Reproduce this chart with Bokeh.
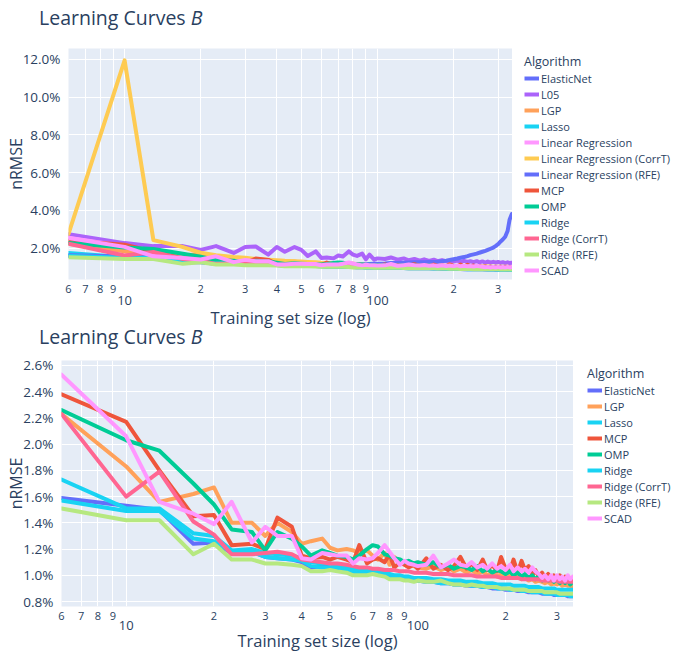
from bokeh.plotting import figure
from bokeh.models import (FixedTicker, PrintfTickFormatter, CustomJSTickFormatter, LogAxis,
                          Legend, LegendItem, Range1d, Div)
from bokeh.layouts import row
from bokeh.embed import file_html
from bokeh.resources import INLINE

# ---------------- data ----------------
x_sizes = [6, 10, 13, 17, 20, 23, 27, 30, 33, 37, 40, 43, 47, 50, 53, 57, 60, 63, 67, 70,
           73, 77, 80, 83, 87, 90, 93, 97, 100,
           107, 113, 120, 127, 133, 140, 147, 153, 160, 167, 173, 180, 187, 193, 200, 207,
           213, 220, 227, 233, 240, 247, 253, 260, 267, 273, 280, 287, 293, 300, 307, 313,
           320, 327, 333, 340]

elasticnet = [1.59, 1.53, 1.50, 1.24, 1.25, 1.17, 1.18, 1.14, 1.13, 1.12, 1.10, 1.06, 1.07, 1.06, 1.05,
              1.04, 1.03, 1.02, 1.02, 1.01, 1.01, 1.00, 0.99, 0.98, 0.98, 0.97, 0.97, 0.97, 0.96,
              0.95, 0.95, 0.94, 0.94, 0.93, 0.93, 0.92, 0.92, 0.92, 0.91, 0.91, 0.90, 0.90, 0.90, 0.89,
              0.89, 0.89, 0.88, 0.88, 0.88, 0.87, 0.87, 0.87, 0.87, 0.86, 0.86, 0.86, 0.86, 0.85, 0.85,
              0.85, 0.85, 0.85, 0.84, 0.84, 0.84]
l05 = [2.73, 2.26, 2.10, 2.10, 1.90, 2.10, 1.74, 2.05, 2.08, 1.65, 2.05, 1.80, 2.05, 1.90, 1.58,
       1.82, 1.47, 1.50, 1.45, 1.60, 1.55, 1.82, 1.65, 1.58, 1.70, 1.40, 1.65, 1.38, 1.45,
       1.42, 1.50, 1.38, 1.45, 1.35, 1.42, 1.33, 1.40, 1.32, 1.38, 1.30, 1.36, 1.30, 1.34, 1.28,
       1.33, 1.27, 1.32, 1.26, 1.30, 1.25, 1.30, 1.24, 1.29, 1.23, 1.28, 1.22, 1.27, 1.22, 1.26,
       1.21, 1.25, 1.20, 1.24, 1.20, 1.22]
lgp = [2.23, 1.83, 1.56, 1.62, 1.67, 1.40, 1.40, 1.30, 1.40, 1.33, 1.24, 1.26, 1.28, 1.21, 1.19,
       1.20, 1.19, 1.17, 1.19, 1.15, 1.12, 1.17, 1.08, 1.14, 1.10, 1.09, 1.08, 1.07, 1.06,
       1.05, 1.07, 1.04, 1.06, 1.03, 1.05, 1.02, 1.04, 1.01, 1.03, 1.00, 1.02, 0.99, 1.01, 0.99,
       1.00, 0.98, 0.99, 0.97, 0.98, 0.96, 0.97, 0.95, 0.96, 0.95, 0.94, 0.95, 0.93, 0.94, 0.93,
       0.94, 0.92, 0.93, 0.92, 0.92, 0.91]
lasso = [1.73, 1.51, 1.51, 1.32, 1.30, 1.19, 1.20, 1.17, 1.16, 1.15, 1.13, 1.10, 1.09, 1.09, 1.07,
         1.06, 1.05, 1.04, 1.04, 1.03, 1.03, 1.02, 1.01, 1.00, 1.00, 0.99, 0.99, 0.98, 0.98,
         0.98, 0.97, 0.97, 0.96, 0.96, 0.96, 0.95, 0.95, 0.95, 0.94, 0.94, 0.94, 0.93, 0.93, 0.93,
         0.93, 0.92, 0.92, 0.92, 0.92, 0.91, 0.91, 0.91, 0.91, 0.90, 0.90, 0.90, 0.90, 0.90, 0.89,
         0.89, 0.89, 0.89, 0.89, 0.89, 0.89]
linreg = [2.55, 2.10, 1.60, 1.50, 1.42, 1.50, 1.28, 1.35, 1.32, 1.28, 1.15, 1.14, 1.18, 1.15, 1.14,
          1.13, 1.10, 1.12, 1.11, 1.12, 1.15, 1.20, 1.16, 1.12, 1.09, 1.10, 1.08, 1.07, 1.07,
          1.06, 1.10, 1.05, 1.07, 1.09, 1.05, 1.06, 1.08, 1.04, 1.06, 1.03, 1.07, 1.03, 1.05, 1.02,
          1.05, 1.02, 1.04, 1.01, 1.03, 1.00, 1.03, 1.00, 1.01, 0.98, 1.00, 0.97, 0.99, 0.97, 0.99,
          0.96, 0.98, 0.96, 0.98, 0.96, 0.97]
linreg_corrt = [2.75, 11.95, 2.42, 2.05, 1.75, 1.62, 1.52, 1.48, 1.42, 1.38, 1.35, 1.32, 1.30, 1.28, 1.26,
                1.24, 1.22, 1.21, 1.20, 1.19, 1.18, 1.17, 1.16, 1.15, 1.14, 1.13, 1.13, 1.12, 1.12,
                1.11, 1.10, 1.10, 1.09, 1.09, 1.08, 1.08, 1.07, 1.07, 1.06, 1.06, 1.06, 1.05, 1.05, 1.05,
                1.04, 1.04, 1.04, 1.03, 1.03, 1.03, 1.03, 1.02, 1.02, 1.02, 1.02, 1.01, 1.01, 1.01, 1.01,
                1.00, 1.00, 1.00, 1.00, 0.99, 0.99]
linreg_rfe = [1.62, 1.55, 1.52, 1.30, 1.28, 1.20, 1.20, 1.16, 1.15, 1.14, 1.12, 1.10, 1.10, 1.09, 1.09,
              1.08, 1.08, 1.08, 1.09, 1.09, 1.10, 1.10, 1.11, 1.12, 1.13, 1.14, 1.15, 1.16, 1.17,
              1.18, 1.20, 1.21, 1.22, 1.23, 1.24, 1.24, 1.25, 1.26, 1.26, 1.27, 1.30, 1.33, 1.36, 1.40,
              1.44, 1.48, 1.52, 1.57, 1.62, 1.66, 1.70, 1.75, 1.80, 1.85, 1.90, 1.96, 2.02, 2.10, 2.20,
              2.35, 2.45, 2.60, 2.90, 3.50, 3.80]
mcp = [2.38, 2.17, 1.80, 1.45, 1.46, 1.23, 1.24, 1.20, 1.44, 1.37, 1.15, 1.13, 1.14, 1.12, 1.14,
       1.12, 1.10, 1.23, 1.09, 1.12, 1.13, 1.10, 1.16, 1.06, 1.10, 1.08, 1.06, 1.08, 1.05,
       1.13, 1.05, 1.08, 1.04, 1.07, 1.14, 1.05, 1.09, 1.04, 1.12, 1.04, 1.08, 1.03, 1.14, 1.05,
       1.03, 1.12, 1.02, 1.11, 1.04, 1.07, 1.00, 1.04, 0.99, 1.02, 0.98, 1.01, 0.97, 1.00, 0.97,
       1.00, 0.96, 0.99, 0.96, 0.98, 0.97]
omp = [2.26, 2.03, 1.95, 1.70, 1.54, 1.35, 1.33, 1.19, 1.33, 1.28, 1.22, 1.15, 1.19, 1.17, 1.15,
       1.14, 1.12, 1.15, 1.20, 1.23, 1.22, 1.16, 1.15, 1.13, 1.12, 1.10, 1.11, 1.09, 1.10,
       1.08, 1.10, 1.06, 1.08, 1.05, 1.07, 1.06, 1.04, 1.07, 1.03, 1.05, 1.02, 1.04, 1.03, 1.01,
       1.03, 1.00, 1.02, 0.99, 1.01, 0.98, 1.00, 0.97, 0.99, 0.96, 0.98, 0.96, 0.97, 0.95, 0.97,
       0.94, 0.96, 0.94, 0.96, 0.93, 0.95]
ridge = [1.57, 1.49, 1.49, 1.28, 1.26, 1.18, 1.18, 1.14, 1.13, 1.12, 1.11, 1.07, 1.06, 1.06, 1.05,
         1.04, 1.03, 1.01, 1.01, 1.01, 1.01, 1.00, 0.99, 0.98, 0.98, 0.97, 0.97, 0.96, 0.96,
         0.95, 0.95, 0.94, 0.94, 0.93, 0.93, 0.93, 0.92, 0.92, 0.91, 0.91, 0.91, 0.90, 0.90, 0.90,
         0.89, 0.89, 0.89, 0.88, 0.88, 0.88, 0.87, 0.87, 0.87, 0.87, 0.86, 0.86, 0.86, 0.86, 0.85,
         0.85, 0.85, 0.85, 0.85, 0.84, 0.84]
ridge_corrt = [2.23, 1.60, 1.79, 1.41, 1.31, 1.16, 1.16, 1.17, 1.18, 1.16, 1.12, 1.11, 1.10, 1.09, 1.09,
               1.08, 1.07, 1.06, 1.06, 1.05, 1.05, 1.04, 1.04, 1.04, 1.03, 1.03, 1.03, 1.02, 1.02,
               1.02, 1.01, 1.01, 1.01, 1.00, 1.00, 1.00, 1.00, 0.99, 0.99, 0.99, 0.99, 0.99, 0.98, 0.98,
               0.98, 0.98, 0.98, 0.97, 0.97, 0.97, 0.97, 0.97, 0.97, 0.96, 0.96, 0.96, 0.96, 0.96, 0.96,
               0.95, 0.95, 0.95, 0.95, 0.95, 0.95]
ridge_rfe = [1.51, 1.42, 1.42, 1.16, 1.24, 1.12, 1.12, 1.09, 1.09, 1.08, 1.07, 1.03, 1.03, 1.04, 1.03,
             1.02, 1.00, 1.00, 1.00, 1.01, 1.00, 0.99, 0.97, 0.97, 0.97, 0.96, 0.96, 0.95, 0.96,
             0.95, 0.95, 0.96, 0.94, 0.93, 0.93, 0.92, 0.93, 0.92, 0.92, 0.91, 0.91, 0.91, 0.90, 0.90,
             0.90, 0.89, 0.89, 0.89, 0.89, 0.88, 0.88, 0.88, 0.88, 0.88, 0.87, 0.87, 0.87, 0.87, 0.87,
             0.86, 0.86, 0.86, 0.86, 0.86, 0.86]
scad = [2.53, 2.06, 1.56, 1.47, 1.39, 1.56, 1.25, 1.37, 1.30, 1.30, 1.13, 1.12, 1.17, 1.16, 1.15,
        1.15, 1.09, 1.13, 1.12, 1.13, 1.17, 1.23, 1.18, 1.13, 1.08, 1.11, 1.09, 1.08, 1.07,
        1.08, 1.15, 1.06, 1.09, 1.12, 1.08, 1.07, 1.10, 1.06, 1.08, 1.05, 1.09, 1.05, 1.07, 1.04,
        1.08, 1.03, 1.06, 1.03, 1.05, 1.02, 1.06, 1.03, 1.01, 0.98, 1.00, 0.97, 1.00, 0.96, 1.00,
        0.97, 0.99, 0.96, 1.00, 0.97, 0.99]

top_series = [("ElasticNet", elasticnet, "#636EFA"), ("L05", l05, "#AB63FA"), ("LGP", lgp, "#FFA15A"),
              ("Lasso", lasso, "#19D3F3"), ("Linear Regression", linreg, "#FF97FF"),
              ("Linear Regression (CorrT)", linreg_corrt, "#FECB52"),
              ("Linear Regression (RFE)", linreg_rfe, "#636EFA"), ("MCP", mcp, "#EF553B"),
              ("OMP", omp, "#00CC96"), ("Ridge", ridge, "#19D3F3"), ("Ridge (CorrT)", ridge_corrt, "#FF6692"),
              ("Ridge (RFE)", ridge_rfe, "#B6E880"), ("SCAD", scad, "#FF97FF")]
bottom_series = [("ElasticNet", elasticnet, "#636EFA"), ("LGP", lgp, "#FFA15A"), ("Lasso", lasso, "#19D3F3"),
                 ("MCP", mcp, "#EF553B"), ("OMP", omp, "#00CC96"), ("Ridge", ridge, "#19D3F3"),
                 ("Ridge (CorrT)", ridge_corrt, "#FF6692"), ("Ridge (RFE)", ridge_rfe, "#B6E880"),
                 ("SCAD", scad, "#FF97FF")]

top_yticks = [2, 4, 6, 8, 10, 12]
bottom_yticks = [0.8, 1.0, 1.2, 1.4, 1.6, 1.8, 2.0, 2.2, 2.4, 2.6]
digit_ticks = [6, 7, 8, 9, 20, 30, 40, 50, 60, 70, 80, 90, 200, 300]
decade_ticks = [10, 100]

FONT = "Open Sans"
TXT = "#2a3f5f"
BG = "#E5ECF6"
W = 675


def title_div(height, pad_top, line_h):
    html = ('<div style="font-family:\'Open Sans\';font-size:19.5px;color:%s;line-height:%dpx;'
            'padding:%spx 0 0 39px;white-space:nowrap;margin:0;">Learning Curves <i>B</i></div>'
            % (TXT, line_h, pad_top))
    return Div(text=html, width=W, height=height, margin=(0, 0, 0, 0))


def make_fig(height, b_top, b_bottom, b_left, frame_w, yr, yticks, series, dec_standoff, lab_standoff):
    p = figure(width=b_left + frame_w, height=height, x_axis_type="log", output_backend="svg",
               toolbar_location=None, x_range=Range1d(6, 342), y_range=Range1d(*yr),
               min_border_top=b_top, min_border_bottom=b_bottom, min_border_left=b_left,
               min_border_right=0, margin=(0, 0, 0, 0))
    p.background_fill_color = BG
    p.border_fill_color = "white"
    p.outline_line_color = None

    ax = p.xaxis[0]
    ax.ticker = FixedTicker(ticks=digit_ticks)
    ax.formatter = CustomJSTickFormatter(code="return String(Math.round(tick)).charAt(0);")
    ax.major_label_text_font = FONT
    ax.major_label_text_font_size = "11px"
    ax.major_label_text_color = TXT
    ax.major_label_standoff = -1
    ax.axis_line_color = None
    ax.major_tick_line_color = None
    ax.minor_tick_line_color = None

    ax2 = LogAxis(ticker=FixedTicker(ticks=decade_ticks),
                  formatter=CustomJSTickFormatter(code="return String(Math.round(tick));"),
                  axis_label="Training set size (log)")
    ax2.major_label_text_font = FONT
    ax2.major_label_text_font_size = "13px"
    ax2.major_label_text_color = TXT
    ax2.major_label_standoff = dec_standoff
    ax2.axis_line_color = None
    ax2.major_tick_line_color = None
    ax2.minor_tick_line_color = None
    ax2.axis_label_text_font = FONT
    ax2.axis_label_text_font_size = "16.5px"
    ax2.axis_label_text_font_style = "normal"
    ax2.axis_label_text_color = TXT
    ax2.axis_label_standoff = lab_standoff
    p.add_layout(ax2, "below")

    yt = FixedTicker(ticks=yticks)
    ay = p.yaxis[0]
    ay.ticker = yt
    ay.formatter = PrintfTickFormatter(format="%.1f%%")
    ay.major_label_text_font = FONT
    ay.major_label_text_font_size = "13.5px"
    ay.major_label_text_color = TXT
    ay.major_label_standoff = 2
    ay.axis_line_color = None
    ay.major_tick_line_color = None
    ay.minor_tick_line_color = None
    ay.axis_label = "nRMSE"
    ay.axis_label_text_font = FONT
    ay.axis_label_text_font_size = "16px"
    ay.axis_label_text_font_style = "normal"
    ay.axis_label_text_color = TXT
    ay.axis_label_standoff = -7

    p.xgrid.ticker = FixedTicker(ticks=sorted(digit_ticks + decade_ticks))
    p.xgrid.grid_line_color = "white"
    p.xgrid.grid_line_width = 1
    p.ygrid.ticker = yt
    p.ygrid.grid_line_color = "white"
    p.ygrid.grid_line_width = 1

    for name, vals, color in series:
        p.line(x_sizes, vals, line_color=color, line_width=4, line_join="round", line_cap="round")
    return p


def make_legend_fig(height, b_top, b_bottom, width, b_left, series):
    # legend panel: the same series are drawn but lie outside this panel's x range,
    # so only their legend entries are visible
    lf = figure(width=width, height=height, output_backend="svg", toolbar_location=None,
                x_axis_location=None, y_axis_location=None,
                x_range=Range1d(1000, 1001), y_range=Range1d(0, 1),
                min_border_top=b_top, min_border_bottom=b_bottom, min_border_left=b_left,
                min_border_right=0, margin=(0, 0, 0, 0))
    lf.background_fill_color = "white"
    lf.border_fill_color = "white"
    lf.outline_line_color = None
    lf.xgrid.visible = False
    lf.ygrid.visible = False
    items = []
    for name, vals, color in series:
        r = lf.line(x_sizes, vals, line_color=color, line_width=4)
        items.append(LegendItem(label=name, renderers=[r]))
    leg = Legend(items=items, location="top_left", title="Algorithm")
    leg.title_text_font = FONT
    leg.title_text_font_size = "12.5px"
    leg.title_text_font_style = "normal"
    leg.title_text_color = TXT
    leg.title_standoff = -3
    leg.label_text_font = FONT
    leg.label_text_font_size = "11px"
    leg.label_text_color = TXT
    leg.label_height = 16
    leg.glyph_height = 16
    leg.glyph_width = 15
    leg.label_standoff = 2
    leg.spacing = 0
    leg.padding = 0
    leg.margin = 5
    leg.background_fill_alpha = 0
    leg.border_line_alpha = 0
    lf.add_layout(leg)
    return lf


t1 = title_div(38, 7.5, 20)
p1 = make_fig(293, 10, 49, 68, 444, (0.33, 12.58), top_yticks, top_series, -6, -2)
l1 = make_legend_fig(293, 10, 49, W - 512, 7, top_series)
t2 = title_div(21, 0, 12)
p2 = make_fig(302, 8, 45, 61, 512, (0.762, 2.638), bottom_yticks, bottom_series, -8, -4)
l2 = make_legend_fig(302, 8, 45, W - 573, 9, bottom_series)

open("out.html", "w").write(file_html([t1, row(p1, l1), t2, row(p2, l2)], INLINE))
